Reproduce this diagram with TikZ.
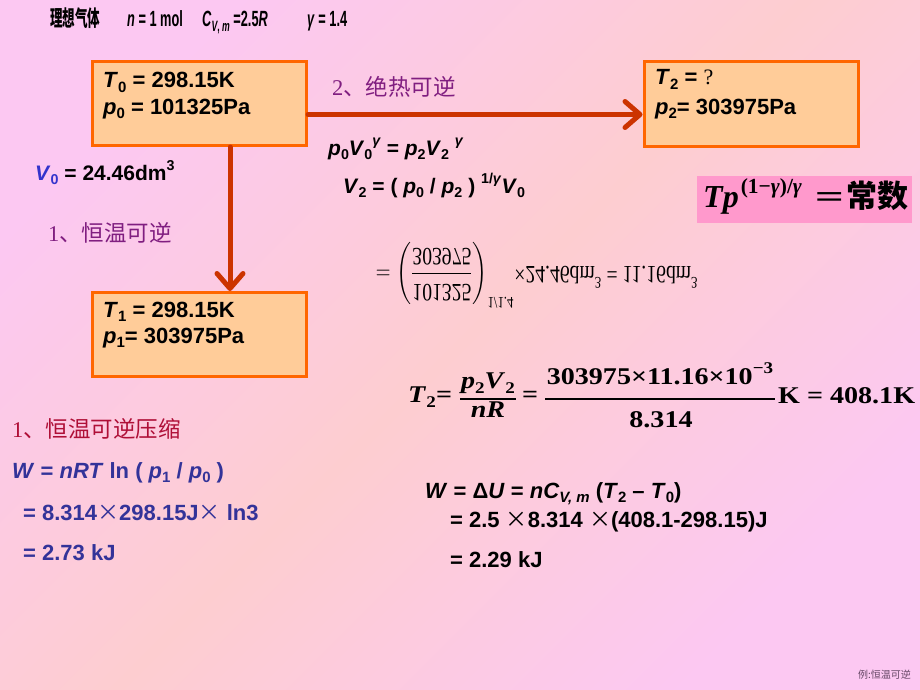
\documentclass[tikz,border=0pt]{standalone}
\usepackage{fontspec}
\usepackage{graphicx}
\usepackage{amsmath}
\setmainfont{Liberation Serif}
\newfontfamily\arl{Liberation Sans}
\newfontfamily\cjk{Noto Sans CJK SC}
\usetikzlibrary{arrows.meta}
\definecolor{bgm}{RGB}{252,200,242}
\definecolor{bgp}{RGB}{253,205,208}
\definecolor{boxfill}{RGB}{255,204,153}
\definecolor{boxline}{RGB}{255,102,0}
\definecolor{arrowc}{RGB}{204,51,0}
\definecolor{purp}{RGB}{128,30,128}
\definecolor{crim}{RGB}{175,15,55}
\definecolor{wblue}{RGB}{51,51,153}
\definecolor{vblue}{RGB}{51,51,204}
\definecolor{tpfill}{RGB}{255,153,204}
\definecolor{footc}{RGB}{100,70,100}
\newcommand\fs[1]{\fontsize{#1}{#1}\selectfont}
\newcommand\dn[1]{\raisebox{-0.22em}{\scalebox{0.68}{#1}}}
\newcommand\up[1]{\raisebox{0.45em}{\scalebox{0.68}{#1}}}
\newcommand\wdr[1]{\scalebox{1.17}[1]{#1}}
\newcommand\nar[1]{\scalebox{0.58}[1]{#1}}
\begin{document}
\begin{tikzpicture}[x=1pt,y=-1pt,
  box/.style={draw=boxline, fill=boxfill, line width=3pt, inner sep=0pt,
    minimum width=214pt, minimum height=84pt},
  arr/.style={draw=arrowc, line width=5pt, line cap=round,
    -{Straight Barb[length=15pt,width=26pt,round]}},
  txt/.style={anchor=base west, inner sep=0pt},
  ctr/.style={anchor=base, inner sep=0pt},
  bsans/.style={font=\arl\bfseries\fs{22}},
  msans/.style={font=\arl\bfseries\fs{21}},
  tserif/.style={font=\bfseries\fs{24}},
  bar/.style={line width=1.4pt},
  lab/.style={anchor=west, inner sep=0pt, font=\fs{22.5}}]
\useasboundingbox (0,0) rectangle (920,690);
\shade[top color=bgm, bottom color=bgm, middle color=bgp, shading angle=45] (0,0) rectangle (920,690);

% top line
\node[txt] (h1) at (50,27) {\scalebox{0.57}[1]{\cjk\bfseries\fs{22}理想气体}};
\node[txt] (h2) at (127,27) {\nar{\arl\bfseries\fs{22}\textit{n} = 1 mol}};
\node[txt] (h3) at (202,27) {\nar{\arl\bfseries\fs{22}\textit{C}\dn{\textit{V}, \textit{m}} =2.5\textit{R}}};
\node[txt] (h4) at (307,27) {\nar{\arl\bfseries\fs{22}\textit{γ} = 1.4}};

% boxes
\node[box] (b0) at (199.5,103.5) {};
\node[box] (b1) at (199,334.5) {};
\node[box] (b2) at (751,104) {};
\node[txt,bsans] (T0) at (103,88) {\textit{T}\dn{0} = 298.15K};
\node[txt,bsans] (P0) at (103,114) {\textit{p}\dn{0} = 101325Pa};
\node[txt,bsans] (T1) at (103,317) {\textit{T}\dn{1} = 298.15K};
\node[txt,bsans] (P1) at (103,343) {\textit{p}\dn{1}= 303975Pa};
\node[txt,bsans] (T2) at (655,85) {\textit{T}\dn{2} = {\rmfamily\mdseries ?}};
\node[txt,bsans] (P2) at (655,114) {\textit{p}\dn{2}= 303975Pa};

% arrows
\draw[arr] ([yshift=-11pt]b0.east) -- ([yshift=-10.5pt]b2.west);
\draw[arr] ([xshift=30.5pt]b0.south) -- ([xshift=31pt]b1.north);

% labels
\node[lab,text=purp] (l2) at (332,87) {2{\cjk 、绝热可逆}};
\node[lab,text=purp] (l1) at (48,233) {1{\cjk 、恒温可逆}};
\node[txt,msans] (v0) at (35,180) {\textcolor{vblue}{\textit{V}\dn{0}} = 24.46dm\up{3}};
\node[txt,msans] (e1) at (328,155) {\textit{p}\dn{0}\textit{V}\dn{0}\up{\textit{γ}} = \textit{p}\dn{2}\textit{V}\dn{2} \up{\textit{γ}}};
\node[txt,msans] (e2) at (343,193) {\textit{V}\dn{2} = ( \textit{p}\dn{0} / \textit{p}\dn{2} ) \up{1/\textit{γ}}\textit{V}\dn{0}};

% flipped formula
\node[inner sep=0pt] (flip) at (537,275) {\resizebox*{322pt}{66pt}{\scalebox{1}[-1]{\fs{20}$=\left(\dfrac{\mbox{101325}}{\mbox{303975}}\right)^{\mbox{\fs{13}1/1.4}}\hspace{-8pt}\mbox{ ×24.46dm}^{\mbox{\fs{13}3}}\mbox{ = 11.16dm}^{\mbox{\fs{13}3}}$}}};

% T2 formula
\node[txt,tserif] (f1) at (408,402) {\wdr{\textit{T}\dn{2}}};
\node[txt,tserif] (f2) at (436,402) {\wdr{=}};
\node[ctr,tserif] (f3) at (488,388) {\wdr{\textit{p}\dn{2}\textit{V}\dn{2}}};
\node[ctr,tserif] (f4) at (488,417) {\wdr{\textit{nR}}};
\draw[bar] (460,399) -- (516,399);
\node[txt,tserif] (f5) at (522,402) {\wdr{=}};
\node[ctr,tserif] (f6) at (660,384) {\wdr{303975×11.16×10\up{−3}}};
\node[ctr,tserif] (f7) at (661,427) {\wdr{8.314}};
\draw[bar] (545,399) -- (775,399);
\node[txt,tserif] (f8) at (778,403) {\wdr{K = 408.1K}};

% Tp box
\node[fill=tpfill, inner sep=0pt, minimum width=215pt, minimum height=47pt] (tpbox) at (804.5,199.5) {};
\node[txt] (tp) at (703,207) {\bfseries\fs{32}\textit{Tp}\hspace{2pt}\raisebox{0.42em}{\fs{21.5}(1−\textit{γ})/\textit{γ}}\hspace{13pt}\scalebox{1.6}[1]{=}\hspace{2pt}{\cjk\fs{31}常数}};

% bottom left
\node[lab,text=crim] (hd) at (12,429) {1{\cjk 、恒温可逆压缩}};
\node[txt,bsans,text=wblue] (w1) at (12,478) {\textit{W} = \textit{nRT} ln ( \textit{p}\dn{1} / \textit{p}\dn{0} )};
\node[txt,bsans,text=wblue] (w2) at (23,520) {= 8.314{\cjk\mdseries ×}298.15J{\cjk\mdseries ×} ln3};
\node[txt,bsans,text=wblue] (w3) at (23,560) {= 2.73 kJ};

% bottom right
\node[txt,bsans] (u1) at (425,498) {\textit{W} = Δ\textit{U} = \textit{nC}\dn{\textit{V, m}} (\textit{T}\dn{2} – \textit{T}\dn{0})};
\node[txt,bsans] (u2) at (450,527) {= 2.5 {\cjk\mdseries ×}8.314 {\cjk\mdseries ×}(408.1-298.15)J};
\node[txt,bsans] (u3) at (450,567) {= 2.29 kJ};

% footer
\node[anchor=east, inner sep=0pt, text=footc] (ft) at (911,675) {\cjk\fs{10}例:恒温可逆};
\end{tikzpicture}
\end{document}
